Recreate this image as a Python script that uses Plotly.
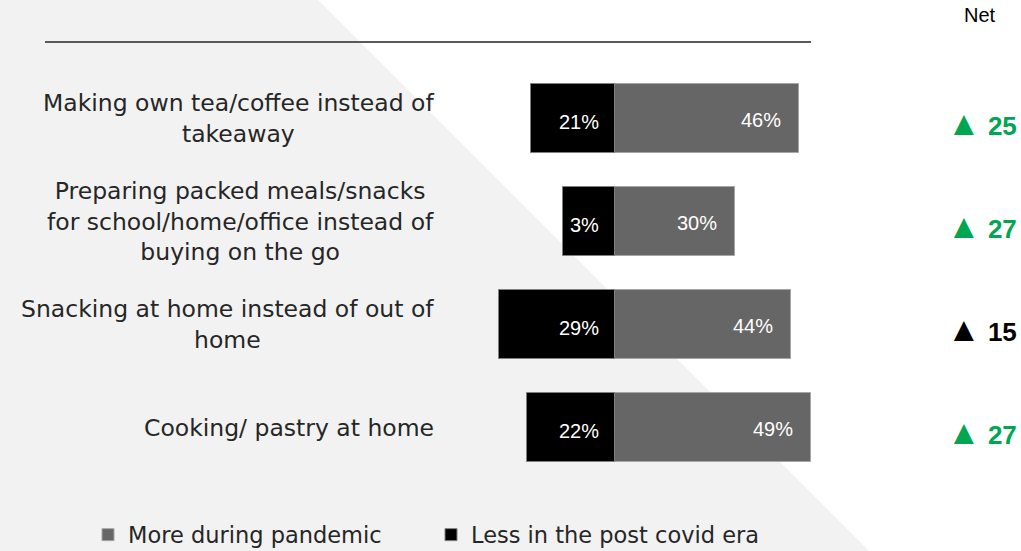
import plotly.graph_objects as go

# ---- data ----
categories = [
    "Making own tea/coffee instead of<br>takeaway",
    "Preparing packed meals/snacks<br>for school/home/office instead of<br>buying on the go",
    "Snacking at home instead of out of<br>home",
    "Cooking/ pastry at home",
]
more_pandemic = [46, 30, 44, 49]
less_post_covid = [21, 13, 29, 22]
more_labels = ["46%", "30%", "44%", "49%"]
less_labels = ["21%", "3%", "29%", "22%"]
net_values = [25, 27, 15, 27]
net_colors = ["#00A651", "#00A651", "#000000", "#00A651"]

W, H = 1021, 551
label_font = "DejaVu Sans"
num_font = "Liberation Sans, Arial"

fig = go.Figure()
fig.add_trace(go.Bar(
    y=categories, x=more_pandemic, orientation="h", name="More during pandemic",
    marker=dict(color="#666666", line=dict(color="#a6a6a6", width=1)),
    width=0.67, hoverinfo="skip",
))
fig.add_trace(go.Bar(
    y=categories, x=[-v for v in less_post_covid], orientation="h",
    name="Less in the post covid era",
    marker=dict(color="#000000", line=dict(color="#7f7f7f", width=1)),
    width=0.67, hoverinfo="skip",
))

annotations = []
for i, cat in enumerate(categories):
    annotations.append(dict(
        x=436 / W, xref="paper", y=cat, yref="y", text=cat, showarrow=False,
        xanchor="right", yanchor="middle", align="center",
        font=dict(family=label_font, size=23.5, color="#262626"),
    ))
    annotations.append(dict(
        x=more_pandemic[i] - 4, xref="x", y=cat, yref="y", text=more_labels[i],
        showarrow=False, xanchor="right", yanchor="middle", yshift=-1,
        font=dict(family=num_font, size=20, color="#ffffff"),
    ))
    annotations.append(dict(
        x=-3.6, xref="x", y=cat, yref="y", text=less_labels[i],
        showarrow=False, xanchor="right", yanchor="middle", yshift=-3,
        font=dict(family=num_font, size=20, color="#ffffff"),
    ))
    annotations.append(dict(
        x=982 / W, xref="paper", y=cat, yref="y",
        text="<b><span style='font-size:34px'>▲</span> %d</b>" % net_values[i],
        showarrow=False, xanchor="center", yanchor="middle", yshift=-4,
        font=dict(family=num_font, size=26, color=net_colors[i]),
    ))
annotations.append(dict(
    x=980 / W, xref="paper", y=1 - 15 / H, yref="paper", text="Net", showarrow=False,
    xanchor="center", yanchor="middle",
    font=dict(family=num_font, size=20, color="#000000"),
))

shapes = [
    dict(type="path", xref="paper", yref="paper", layer="below",
         path="M 0 1 L %f 1 L %f 0 L 0 0 Z" % (318 / W, 869 / W),
         fillcolor="#f2f2f2", line=dict(width=0)),
    dict(type="line", xref="paper", yref="paper", x0=45 / W, x1=811 / W,
         y0=1 - 42 / H, y1=1 - 42 / H, line=dict(color="#595959", width=2)),
]

fig.update_layout(
    width=W, height=H, margin=dict(l=0, r=0, t=0, b=0, autoexpand=False),
    paper_bgcolor="#ffffff", plot_bgcolor="rgba(0,0,0,0)",
    barmode="relative", bargap=0,
    xaxis=dict(range=[-615 / 3.99, (W - 615) / 3.99], visible=False, fixedrange=True),
    yaxis=dict(type="category", range=[(H - 118.5) / 103, -118.5 / 103],
               visible=False, fixedrange=True),
    showlegend=True,
    legend=dict(orientation="h", x=88 / W, xanchor="left", y=(H - 535) / H,
                yanchor="middle", bgcolor="rgba(0,0,0,0)",
                font=dict(family=label_font, size=22.5, color="#262626"),
                entrywidth=298, entrywidthmode="pixels", traceorder="normal"),
    annotations=annotations, shapes=shapes,
)

fig.write_html("out.html")
